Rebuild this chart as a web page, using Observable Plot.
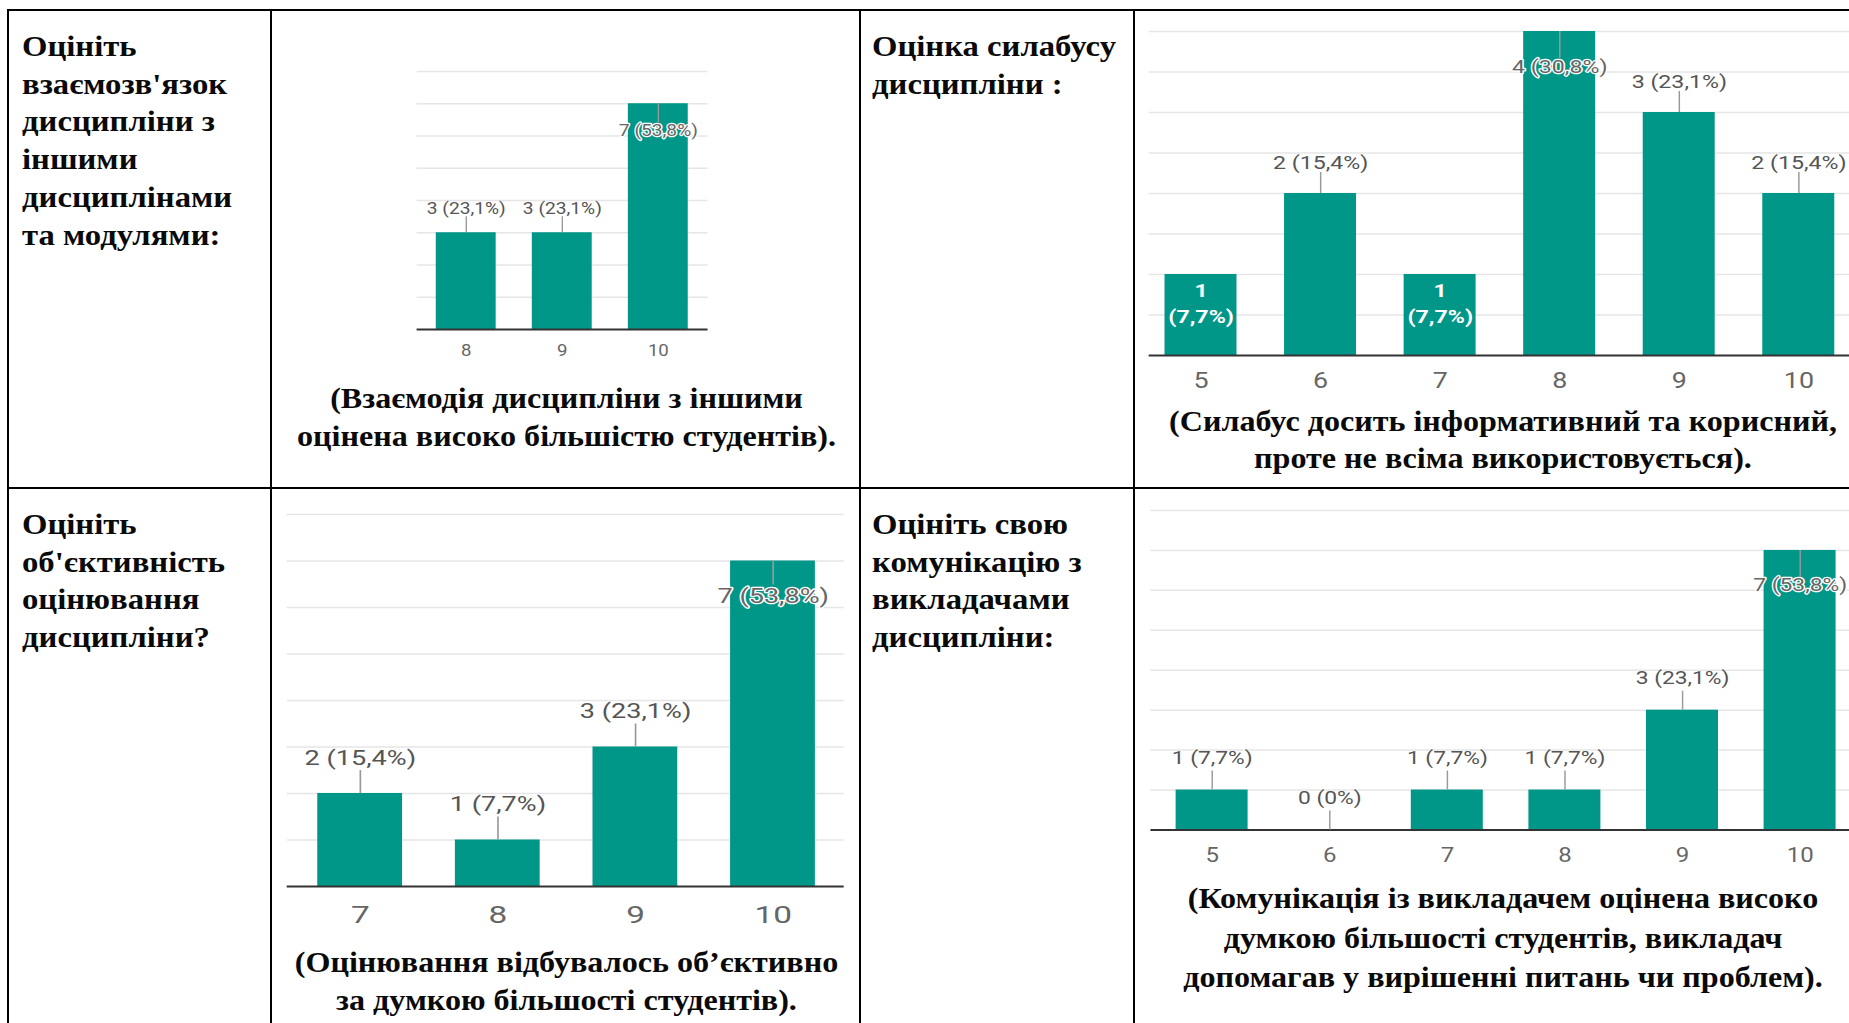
<!DOCTYPE html>
<html><head><meta charset="utf-8">
<script src="https://cdn.jsdelivr.net/npm/d3@7"></script>
<script src="https://cdn.jsdelivr.net/npm/@observablehq/plot@0.6"></script>
<style>
html,body{margin:0;padding:0;background:#fff;}
body{width:1849px;height:1023px;overflow:hidden;position:relative;}
.ln{position:absolute;background:#000;}
.txt{position:absolute;font-family:"Liberation Serif",serif;font-weight:bold;font-size:30px;line-height:37.7px;color:#0a0a0a;white-space:nowrap;transform-origin:0 0;transform:scaleX(1.09);}
.cap{text-align:center;transform-origin:50% 0;transform:scaleX(1.07);}
</style></head><body>
<script>
// ---------- data ----------
const c1Scores = ["8", "9", "10"];
const c1Counts = [3, 3, 7];
const c1Percents = ["23,1%", "23,1%", "53,8%"];

const c2Scores = ["5", "6", "7", "8", "9", "10"];
const c2Counts = [1, 2, 1, 4, 3, 2];
const c2Percents = ["7,7%", "15,4%", "7,7%", "30,8%", "23,1%", "15,4%"];

const c3Scores = ["7", "8", "9", "10"];
const c3Counts = [2, 1, 3, 7];
const c3Percents = ["15,4%", "7,7%", "23,1%", "53,8%"];

const c4Scores = ["5", "6", "7", "8", "9", "10"];
const c4Counts = [1, 0, 1, 1, 3, 7];
const c4Percents = ["7,7%", "0%", "7,7%", "7,7%", "23,1%", "53,8%"];

const q1Lines = ["Оцініть", "взаємозв'язок", "дисципліни з", "іншими", "дисциплінами", "та модулями:"];
const q2Lines = ["Оцінка силабусу", "дисципліни :"];
const q3Lines = ["Оцініть", "об'єктивність", "оцінювання", "дисципліни?"];
const q4Lines = ["Оцініть свою", "комунікацію з", "викладачами", "дисципліни:"];

const cap1Lines = ["(Взаємодія дисципліни з іншими", "оцінена високо більшістю студентів)."];
const cap2Lines = ["(Силабус досить інформативний та корисний,", "проте не всіма використовується)."];
const cap3Lines = ["(Оцінювання відбувалось об’єктивно", "за думкою більшості студентів)."];
const cap4Lines = ["(Комунікація із викладачем оцінена високо", "думкою більшості студентів, викладач", "допомагав у вирішенні питань чи проблем)."];

// ---------- table ----------
function line(l, t, w, h) {
  const d = document.createElement("div");
  d.className = "ln";
  Object.assign(d.style, {left: l + "px", top: t + "px", width: w + "px", height: h + "px"});
  document.body.appendChild(d);
}
line(7, 9, 1860, 2);
line(7, 487, 1860, 2);
[7, 270, 859, 1133].forEach(x => line(x, 9, 2, 1100));

function text(lines, left, top, width, cls, lh) {
  const d = document.createElement("div");
  d.className = "txt" + (cls ? " " + cls : "");
  d.style.left = left + "px";
  d.style.top = top + "px";
  if (width) d.style.width = width + "px";
  if (lh) d.style.lineHeight = lh + "px";
  d.innerHTML = lines.map(s => s.replace(/&/g, "&amp;").replace(/</g, "&lt;")).join("<br>");
  document.body.appendChild(d);
}
text(q1Lines, 22, 27, 0);
text(q2Lines, 872, 27, 0);
text(q3Lines, 22, 505, 0);
text(q4Lines, 872, 505, 0);
text(cap1Lines, 273, 379, 587, "cap", 38);
text(cap2Lines, 1136, 402, 734, "cap", 37);
text(cap3Lines, 273, 943, 587, "cap", 38);
text(cap4Lines, 1136, 878, 734, "cap", 39.5);

// ---------- charts ----------
function chart(cfg) {
  const {scores, counts, percents, x0, x1, yTop, yBase, ymax, step, pi, po, sx,
         labelSize, tickFont, tickCenter, above, inside, white = [], whiteOff = 30} = cfg;
  const mL = 12, mR = 12, mT = 60, mB = 50;
  const W = (x1 - x0) / sx + mL + mR;
  const H = mT + (yBase - yTop) + mB;
  const unit = (yBase - yTop) / ymax;
  const data = scores.map((s, i) => ({score: s, count: counts[i], pct: percents[i]}));
  const maxC = d3.max(counts);
  const mode = d => white.includes(d.score) ? "white" : (d.count === maxC ? "inside" : "above");
  const dAbove = data.filter(d => mode(d) === "above");
  const dInside = data.filter(d => mode(d) === "inside");
  const dWhite = data.filter(d => mode(d) === "white");
  const lbl = d => `${d.count} (${d.pct})`;
  const svg = Plot.plot({
    width: W, height: H,
    marginLeft: mL, marginRight: mR, marginTop: mT, marginBottom: mB,
    style: {fontFamily: "Roboto, sans-serif", background: "transparent", color: "#666", overflow: "visible"},
    x: {type: "band", domain: scores, paddingInner: pi, paddingOuter: po, label: null},
    y: {domain: [0, ymax], axis: null},
    marks: [
      Plot.gridY(d3.range(step, ymax + 1e-9, step), {stroke: "#e6e6e6", strokeOpacity: 1, strokeWidth: 1.5}),
      Plot.barY(data, {x: "score", y: "count", fill: "#009688"}),
      Plot.ruleY([0], {stroke: "#333", strokeWidth: 2}),
      Plot.ruleX(dAbove, {x: "score", y1: "count", y2: d => d.count + above[0] / unit, stroke: "#999", strokeWidth: 1.2}),
      Plot.text(dAbove, {x: "score", y: "count", dy: -above[1], text: lbl, fontSize: labelSize, fill: "#555", lineAnchor: "middle"}),
      Plot.ruleX(dInside, {x: "score", y1: "count", y2: d => d.count - inside[0] / unit, stroke: "#999", strokeWidth: 1.2}),
      Plot.text(dInside, {x: "score", y: "count", dy: inside[1], text: lbl, fontSize: labelSize, fill: "#666", stroke: "#fff", strokeWidth: 2.5, lineAnchor: "middle"}),
      Plot.text(dWhite, {x: "score", y: "count", dy: whiteOff, text: d => `${d.count}\n(${d.pct})`, fontSize: labelSize, fill: "#fff", fontWeight: "bold", lineHeight: 1.4, lineAnchor: "middle"}),
      Plot.axisX({tickSize: 0, tickPadding: tickCenter - yBase - 0.355 * tickFont, fontSize: tickFont, label: null})
    ]
  });
  Object.assign(svg.style, {
    position: "absolute",
    left: (x0 - mL * sx) + "px",
    top: (yTop - mT) + "px",
    transformOrigin: "0 0",
    transform: `scaleX(${sx})`,
    overflow: "visible"
  });
  document.body.appendChild(svg);
}

chart({scores: c1Scores, counts: c1Counts, percents: c1Percents,
  x0: 417, x1: 708, yTop: 71, yBase: 329, ymax: 8, step: 1, pi: 0.38, po: 0.19, sx: 1.13,
  labelSize: 17, tickFont: 16.5, tickCenter: 350, above: [16, 24], inside: [19, 27]});

chart({scores: c2Scores, counts: c2Counts, percents: c2Percents,
  x0: 1149, x1: 1850, yTop: 31, yBase: 355, ymax: 4, step: 0.5, pi: 0.4, po: 0.117, sx: 1.22,
  labelSize: 19, tickFont: 22, tickCenter: 380, above: [21, 31], inside: [27, 35], white: ["5", "7"], whiteOff: 27});

chart({scores: c3Scores, counts: c3Counts, percents: c3Percents,
  x0: 287, x1: 844, yTop: 514, yBase: 886, ymax: 8, step: 1, pi: 0.388, po: 0.212, sx: 1.39,
  labelSize: 19.5, tickFont: 24, tickCenter: 914, above: [23, 35], inside: [24, 36]});

chart({scores: c4Scores, counts: c4Counts, percents: c4Percents,
  x0: 1150.6, x1: 1860, yTop: 510, yBase: 829.5, ymax: 8, step: 1, pi: 0.39, po: 0.2, sx: 1.2,
  labelSize: 19, tickFont: 20, tickCenter: 854, above: [19, 32.5], inside: [30, 34]});
</script>
</body></html>
